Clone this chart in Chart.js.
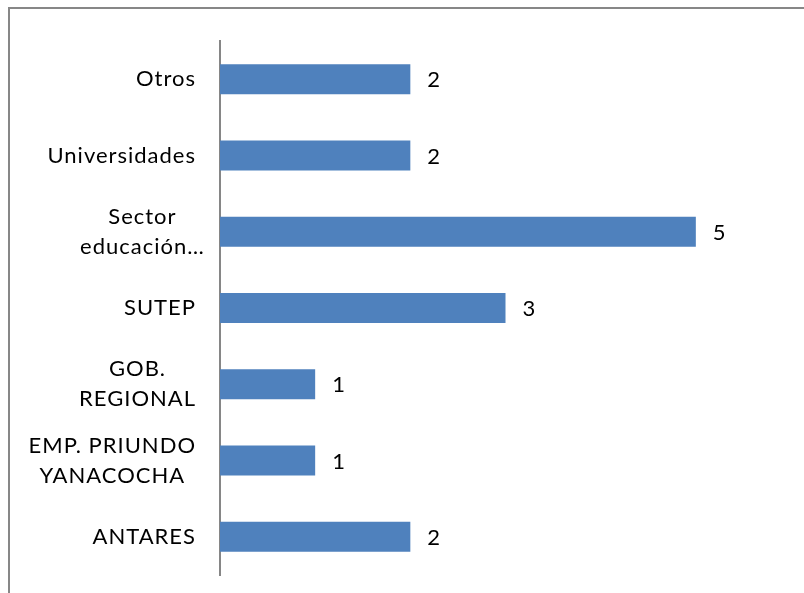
<!DOCTYPE html>
<html>
<head>
<meta charset="utf-8">
<script src="https://cdn.jsdelivr.net/npm/chart.js@4/dist/chart.umd.min.js"></script>
<style>
  html, body { margin: 0; padding: 0; background: #fff; overflow: hidden; }
  #frame { position: absolute; left: 8px; top: 7px; width: 2000px; height: 2000px; border: 2px solid #878787; }
  #wrap { position: absolute; left: 0; top: 0; width: 804px; height: 593px; }
</style>
</head>
<body>
<div id="frame"></div>
<div id="wrap"><canvas id="myChart" width="804" height="593"></canvas></div>
<script>
// categories, top to bottom (multi-line labels as arrays)
var categorias = [
    ['Otros'],
    ['Universidades'],
    ['Sector', 'educación…'],
    ['SUTEP'],
    ['GOB.', 'REGIONAL'],
    ['EMP. PRIUNDO', 'YANACOCHA'],
    ['ANTARES']
];
var valores = [2, 2, 5, 3, 1, 1, 2];

var fuente = '22px Lato';

// draws category labels (centered lines, block right aligned) and value labels
var etiquetas = {
    id: 'etiquetas',
    afterDatasetsDraw: function (chart) {
        var ctx = chart.ctx;
        var yScale = chart.scales.y;
        var right = chart.chartArea.left - 24;
        ctx.save();
        ctx.font = fuente;
        ctx.letterSpacing = '1px';
        ctx.fillStyle = '#000';
        ctx.textBaseline = 'middle';
        ctx.textAlign = 'center';
        categorias.forEach(function (lines, i) {
            var y = yScale.getPixelForTick(i);
            var w = 0;
            lines.forEach(function (l) {
                w = Math.max(w, ctx.measureText(l.replace(/…$/, '')).width);
            });
            lines.forEach(function (l, j) {
                ctx.fillText(l, right - w / 2, y + (j - (lines.length - 1) / 2) * 30);
            });
        });
        // values next to the bars
        ctx.textAlign = 'left';
        chart.getDatasetMeta(0).data.forEach(function (bar, i) {
            ctx.fillText(String(valores[i]), bar.x + 17, bar.y + 1);
        });
        ctx.restore();
    }
};

var ctx = document.getElementById('myChart');
var myChart = new Chart(ctx, {
    type: 'bar',
    data: {
        labels: categorias,
        datasets: [{
            data: valores,
            backgroundColor: '#4F81BD',
            borderWidth: 0,
            categoryPercentage: 1,
            barPercentage: 0.393
        }]
    },
    options: {
        indexAxis: 'y',
        responsive: false,
        animation: false,
        layout: { padding: { left: 212, right: 13, top: 41, bottom: 18 } },
        plugins: {
            legend: { display: false },
            tooltip: { enabled: false }
        },
        scales: {
            x: { display: false, min: 0, max: 6 },
            y: {
                grid: { display: false },
                ticks: { display: false },
                border: { display: true, color: '#868686', width: 2 }
            }
        }
    },
    plugins: [etiquetas]
});
</script>
</body>
</html>
